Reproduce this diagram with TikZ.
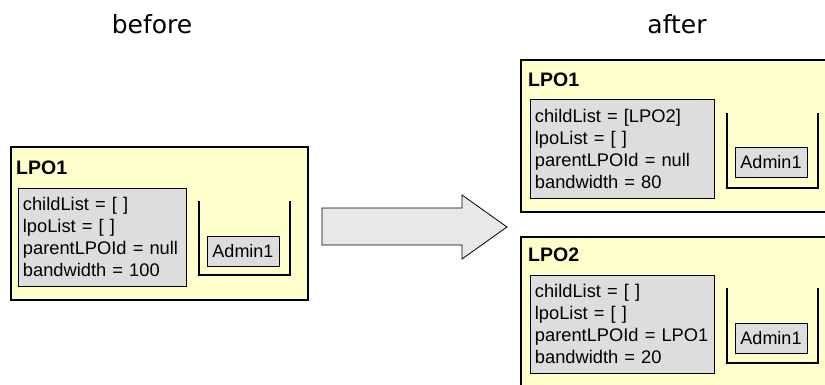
\documentclass[tikz,border=0pt]{standalone}
\usepackage{fontspec}
\setmainfont{Liberation Sans}
\newfontfamily\handfont{DejaVu Sans}
\definecolor{lpoyellow}{HTML}{FFFFCC}
\definecolor{fieldgray}{HTML}{DDDDDD}
\definecolor{arrowgray}{HTML}{E8E8E8}
\begin{document}
\begin{tikzpicture}[x=1pt,y=-1pt,
  lpobox/.style={draw=black, line width=2.4pt, fill=lpoyellow, anchor=north west, inner sep=0pt},
  lpotitle/.style={anchor=base west, inner sep=0pt, font=\fontsize{19.5}{22}\selectfont\bfseries},
  fieldbox/.style={draw=black, line width=0.8pt, fill=fieldgray, anchor=north west,
    align=left, inner sep=0pt, inner xsep=4.5pt, font=\fontsize{18.3}{22}\selectfont},
  adminbox/.style={draw=black, line width=0.8pt, fill=fieldgray, minimum width=72pt,
    minimum height=30pt, inner sep=0pt, font=\fontsize{18}{22}\selectfont},
  bucket/.style={draw=black, line width=2.4pt},
  caption/.style={anchor=base, inner sep=0pt, font=\handfont\fontsize{25}{30}\selectfont}]
\useasboundingbox (0,0) rectangle (825,384);
\clip (0,0) rectangle (825,384);

% headings
\node[caption] (before) at (152,33) {before};
\node[caption] (after) at (677,33) {after};

% ---- state before ----
\node[lpobox, minimum width=297pt, minimum height=153pt] (lpoA) at (10,146) {};
\node[lpotitle] (lpoAtitle) at (16,174) {LPO1};
\node[fieldbox, minimum width=168pt, minimum height=98pt, text width=159pt] (fieldsA) at (18,188)
  {\mbox{childList = [ ]}\\\mbox{lpoList = [ ]}\\\mbox{parentLPOId = null}\\\mbox{bandwidth = 100}};
\coordinate (bAtl) at (199,201);
\coordinate (bAbl) at (199,275);
\coordinate (bAbr) at (290,275);
\coordinate (bAtr) at (290,201);
\draw[bucket] (bAtl) -- (bAbl) -- (bAbr) -- (bAtr);
\node[adminbox] (adminA) at (243,251) {Admin1};

% ---- transition arrow ----
\draw[fill=arrowgray, line width=0.8pt, line join=miter]
  (322,208) -- (462,208) -- (462,195) -- (507,227) -- (462,259) -- (462,245) -- (322,245) -- cycle;

% ---- state after: LPO1 ----
\node[lpobox, minimum width=312pt, minimum height=152pt] (lpoB) at (520,59) {};
\node[lpotitle] (lpoBtitle) at (528,86) {LPO1};
\node[fieldbox, minimum width=184pt, minimum height=99pt, text width=175pt] (fieldsB) at (530,99)
  {\mbox{childList = [LPO2]}\\\mbox{lpoList = [ ]}\\\mbox{parentLPOId = null}\\\mbox{bandwidth = 80}};
\coordinate (bBtl) at (727,113);
\coordinate (bBbl) at (727,188);
\coordinate (bBbr) at (818,188);
\coordinate (bBtr) at (818,113);
\draw[bucket] (bBtl) -- (bBbl) -- (bBbr) -- (bBtr);
\node[adminbox] (adminB) at (771,162.5) {Admin1};

% ---- state after: LPO2 ----
\node[lpobox, minimum width=312pt, minimum height=160pt] (lpoC) at (520,236) {};
\node[lpotitle] (lpoCtitle) at (528,261) {LPO2};
\node[fieldbox, minimum width=184pt, minimum height=98pt, text width=175pt] (fieldsC) at (530,275)
  {\mbox{childList = [ ]}\\\mbox{lpoList = [ ]}\\\mbox{parentLPOId = LPO1}\\\mbox{bandwidth = 20}};
\coordinate (bCtl) at (727,288);
\coordinate (bCbl) at (727,363);
\coordinate (bCbr) at (818,363);
\coordinate (bCtr) at (818,288);
\draw[bucket] (bCtl) -- (bCbl) -- (bCbr) -- (bCtr);
\node[adminbox] (adminC) at (771,338.5) {Admin1};
\end{tikzpicture}
\end{document}
